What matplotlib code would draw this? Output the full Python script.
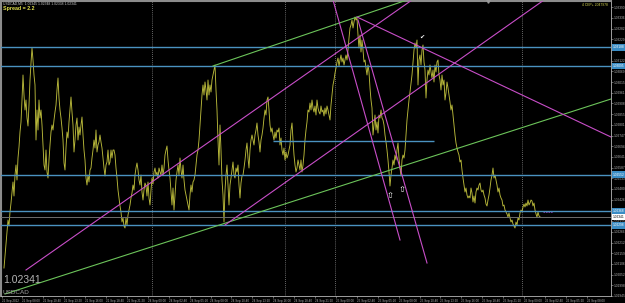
import numpy as np
import matplotlib
matplotlib.use("Agg")
import matplotlib.pyplot as plt

plt.rcParams['font.family'] = ['Liberation Sans', 'DejaVu Sans']

# --- Dados ---
symbol = "USDCAD"
last_price = 1.02341
first_bar = 4

# close em pontos acima de 1.00000 (1 ponto = 0.00001), uma barra por coluna
close_pts = [
    2085, 2145, 2205, 2265, 2325, 2295, 2365, 2410, 2465, 2515,
    2445, 2550, 2600, 2525, 2635, 2690, 2765, 2815, 2925, 3050,
    2950, 2875, 2925, 2835, 2795, 2900, 3025, 3110, 3185, 3125,
    3050, 3000, 2725, 2875, 2775, 2925, 2835, 2875, 2800, 2700,
    2600, 2575, 2675, 2565, 2535, 2625, 2700, 2765, 2800, 2775,
    2825, 2865, 2900, 2975, 3035, 2935, 2875, 2835, 2785, 2725,
    2610, 2575, 2685, 2765, 2735, 2815, 2875, 2940, 2865, 2800,
    2665, 2725, 2800, 2835, 2725, 2790, 2750, 2800, 2840, 2750,
    2675, 2625, 2535, 2500, 2550, 2515, 2575, 2585, 2635, 2675,
    2725, 2685, 2775, 2665, 2700, 2715, 2750, 2715, 2685, 2635,
    2585, 2545, 2600, 2615, 2675, 2600, 2615, 2675, 2635, 2675,
    2675, 2650, 2585, 2535, 2475, 2435, 2395, 2365, 2315, 2335,
    2295, 2285, 2335, 2300, 2350, 2375, 2400, 2435, 2460, 2500,
    2475, 2550, 2585, 2610, 2575, 2525, 2500, 2550, 2465, 2425,
    2475, 2510, 2495, 2445, 2515, 2435, 2400, 2475, 2535, 2505,
    2565, 2585, 2550, 2565,
    2535, 2585, 2565, 2550, 2600, 2550, 2585, 2650, 2675, 2695,
    2625, 2575, 2535, 2465, 2400, 2485, 2375, 2450, 2525, 2565,
    2600, 2550, 2635, 2575, 2535, 2600, 2525, 2475, 2450, 2425,
    2400, 2375, 2450, 2500, 2465, 2515, 2525, 2550, 2600, 2650,
    2675, 2725, 2800, 2875, 2950, 3000, 2950, 3015, 2975, 2925,
    3025, 2950, 3000, 2965, 3025, 3050, 3075, 3100, 2975, 2875,
    2725, 2600, 2800, 2675, 2525, 2450, 2315, 2475, 2550, 2600,
    2500, 2400, 2500, 2535, 2575, 2615, 2550, 2535, 2585, 2565,
    2600, 2500, 2435, 2510, 2545, 2550, 2585, 2625, 2675, 2710,
    2635, 2585, 2675, 2725, 2750, 2725, 2700, 2750, 2775, 2810,
    2750, 2715, 2665, 2725, 2750, 2785, 2835, 2875, 2850, 2925,
    2940, 2875, 2800, 2765, 2785, 2750, 2725, 2765, 2735, 2775,
    2765, 2785, 2700, 2735, 2675, 2650, 2685, 2625, 2665, 2635,
    2650, 2675, 2700, 2775, 2810, 2725, 2650, 2600, 2565, 2585,
    2625, 2600, 2575,
    2625, 2565, 2600, 2650, 2725, 2775, 2815, 2875, 2865, 2910,
    2875, 2925, 2885, 2865, 2895, 2850, 2925, 2885, 2865, 2855,
    2895, 2865, 2875, 2845, 2885, 2855, 2895, 2875, 2850, 2825,
    2900, 2950, 3000, 3025, 3060, 3085, 3115, 3135, 3095, 3125,
    3150, 3115, 3135, 3100, 3125, 3150, 3125, 3175, 3235, 3285,
    3300, 3325, 3285, 3315, 3340, 3325, 3335, 3250, 3185, 3250,
    3165, 3225, 3175, 3115, 3125, 3085, 3050, 3100, 3065, 2985,
    2925, 2885, 2750, 2800, 2850, 2775, 2815, 2760, 2850, 2835,
    2875, 2835, 2825, 2800, 2750, 2715, 2675, 2625, 2565, 2495,
    2550, 2585, 2625, 2600, 2650, 2625, 2675, 2710, 2635, 2585,
    2545, 2625, 2650, 2635, 2675, 2750, 2825, 2875, 2925, 2965,
    3010, 3050, 3115, 3175, 3210, 3185, 3225, 3000, 3125, 3150,
    3100, 3175, 3200, 3115, 3075, 2935, 3025, 3075, 3050, 3100,
    3065, 3035, 3075, 3015, 3100, 3065, 3115, 3125, 3050, 3025,
    2975, 3050, 3000, 3025, 2925, 2960, 3015, 2985, 2950, 2915,
    2875, 2900, 2850, 2800, 2750, 2710, 2685, 2665,
    2650, 2615, 2625, 2575, 2535, 2500, 2465, 2485, 2450, 2435,
    2445, 2435, 2485, 2460, 2415, 2445, 2410, 2465, 2485, 2475,
    2500, 2510, 2475, 2465, 2475, 2450, 2435, 2405, 2395, 2425,
    2450, 2485, 2525, 2550, 2585, 2535, 2550, 2525, 2500, 2465,
    2485, 2450, 2435, 2425, 2395, 2400, 2375, 2365, 2355, 2340,
    2360, 2335, 2315, 2325, 2305, 2295, 2285, 2315, 2300, 2335,
    2325, 2360, 2375, 2365, 2390, 2405, 2390, 2410, 2395, 2425,
    2400, 2410, 2425, 2420, 2395, 2410, 2375, 2355, 2340, 2365,
    2345, 2341,
]

# linhas horizontais (suportes / resistencias)
h_levels = [1.03188, 1.03095, 1.02552, 1.02368, 1.02298]
short_level = 1.02720
short_span = (273, 434)

# linhas de tendencia: (barra1, preco1, barra2, preco2)
green_lines = [
    (5, 1.01955, 611, 1.02930),
    (213, 1.03095, 407, 1.03425),
]
magenta_lines = [
    (26, 1.02075, 412, 1.03425),
    (225, 1.02300, 544, 1.03425),
    (357, 1.03340, 611, 1.02740),
    (333, 1.03425, 400, 1.02225),
    (358, 1.03325, 427, 1.02110),
]

separators = [152, 285, 335, 522]
arrow_marks = [(390, 1.02470), (402, 1.02500)]
check_mark = (422, 1.03240)

time_labels = [
    "21 Sep 2012", "21 Sep 08:00", "21 Sep 10:40", "21 Sep 13:20", "21 Sep 16:00",
    "21 Sep 18:40", "21 Sep 21:20", "24 Sep 00:00", "24 Sep 02:40", "24 Sep 05:20",
    "24 Sep 08:00", "24 Sep 10:40", "24 Sep 13:20", "24 Sep 16:00", "24 Sep 18:40",
    "24 Sep 21:20", "25 Sep 00:00", "25 Sep 02:40", "25 Sep 05:20", "25 Sep 08:00",
    "25 Sep 10:40", "25 Sep 13:20", "25 Sep 16:00", "25 Sep 18:40", "25 Sep 21:20",
    "26 Sep 00:00", "26 Sep 02:40", "26 Sep 05:20", "26 Sep 08:00",
]

close = 1 + np.array(close_pts) / 1e5
bars = first_bar + np.arange(len(close))

# --- Visual (estilo MT4) ---
W, H = 625, 303
fig = plt.figure(figsize=(W / 100, H / 100), dpi=100, facecolor='black')
ax = fig.add_axes([1 / W, 7 / H, 610 / W, 295 / H])
ax.set_facecolor('black')
ax.set_xlim(1, 611)
ax.set_ylim(1.01945, 1.03420)

cyan = '#4a92c0'
for lvl in h_levels:
    ax.axhline(lvl, color=cyan, lw=1.0, zorder=3)
ax.hlines(short_level, *short_span, color=cyan, lw=1.0, zorder=3)
ax.axhline(last_price, color='#6e6e6e', lw=0.7, zorder=3)

for s in separators:
    ax.axvline(s, color='#8a8a8a', lw=0.6, ls=(0, (1, 1.5)), zorder=1)

ax.plot(bars, close, color='#b8b83a', lw=0.65, zorder=2)

for x1, y1, x2, y2 in green_lines:
    ax.plot([x1, x2], [y1, y2], color='#6cc45a', lw=0.8, zorder=4)
for x1, y1, x2, y2 in magenta_lines:
    ax.plot([x1, x2], [y1, y2], color='#c84ec8', lw=0.8, zorder=4)

# pequeno traço roxo perto do ultimo preço
ax.plot([543, 553], [1.02365, 1.02365], color='#7a4ab0', lw=0.6, ls=(0, (2, 1)), zorder=3)

for bx, py in arrow_marks:
    ax.text(bx, py, '\u21e7', family='DejaVu Sans', fontsize=6, color='white',
            ha='center', va='top', zorder=5)
ax.text(*check_mark, '\u2714', family='DejaVu Sans', fontsize=4.5, color='white',
        ha='center', va='center', zorder=5)
ax.plot(488, 1.03418, marker='v', ms=2.5, color='#9a9a9a', clip_on=False, zorder=5)

# eixo de preços à direita
yt = 1.01945 + np.arange(28) * 0.000535
ax.yaxis.tick_right()
ax.set_yticks(yt)
ax.set_yticklabels([f'{v:.5f}' for v in yt])
ax.tick_params(axis='y', labelsize=2.3, colors='#b0b0b0', length=1.5, width=0.4, pad=0.6)

for lvl in h_levels:
    ax.annotate(f'{lvl:.5f}', xy=(1, lvl), xycoords=('axes fraction', 'data'),
                xytext=(1.2, 0), textcoords='offset points', fontsize=2.3, color='white',
                va='center', ha='left',
                bbox=dict(boxstyle='square,pad=0.35', fc='#3a8cc4', ec='none'))
ax.annotate(f'{last_price:.5f}', xy=(1, last_price), xycoords=('axes fraction', 'data'),
            xytext=(1.2, 0), textcoords='offset points', fontsize=2.3, color='black',
            va='center', ha='left',
            bbox=dict(boxstyle='square,pad=0.35', fc='white', ec='none'))

# eixo de tempo
xt = 1.5 + np.arange(len(time_labels)) * 20.9
ax.set_xticks(xt)
ax.set_xticklabels(time_labels, ha='left')
ax.tick_params(axis='x', labelsize=2.2, colors='#b0b0b0', length=1.5, width=0.4, pad=0.5)

for side in ['right', 'bottom']:
    ax.spines[side].set_color('#b8b8b8')
    ax.spines[side].set_linewidth(0.6)
for side in ['left', 'top']:
    ax.spines[side].set_color('#8c8c8c')
    ax.spines[side].set_linewidth(1.5)

# textos
fig.text(3 / W, 1 - 4 / H, f"{symbol},M5  1.02345 1.02348 1.02338 1.02341",
         fontsize=2.4, color='#c8c8c8', va='center')
fig.text(3 / W, 1 - 8.5 / H, "Spread = 2.2", fontsize=3.8, fontweight='bold',
         color='#e6e650', va='center')
fig.text(608 / W, 1 - 5 / H, "4 CEP+ 2047978", fontsize=2.4, color='#d8d850',
         ha='right', va='center')
fig.text(3 / W, 1 - 280 / H, f"{last_price:.5f}", fontsize=7.5, color='#b4b4b4',
         va='center')
fig.text(3 / W, 1 - 292 / H, symbol, fontsize=4.6, color='#a0a0a0', va='center')

fig.savefig('out.png', dpi=100, facecolor='black')
